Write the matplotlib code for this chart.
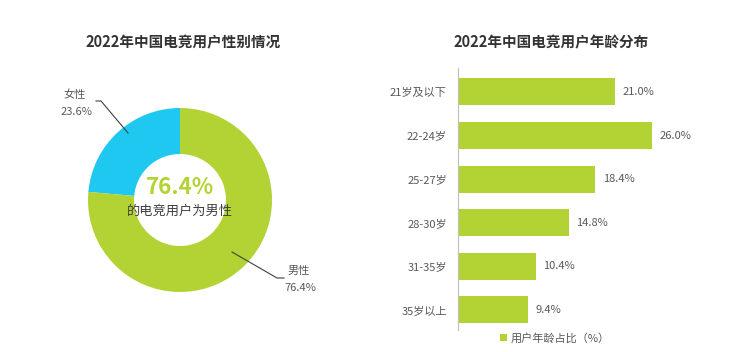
import matplotlib
matplotlib.use("Agg")
import matplotlib.pyplot as plt
from matplotlib.patches import Patch

plt.rcParams['font.family'] = ['Noto Sans CJK SC', 'DejaVu Sans']

gender_labels = ['女性', '男性']
gender_values = [23.6, 76.4]
gender_colors = ['#1ec8f0', '#b3d334']

age_labels = ['21岁及以下', '22-24岁', '25-27岁', '28-30岁', '31-35岁', '35岁以上']
age_values = [21.0, 26.0, 18.4, 14.8, 10.4, 9.4]
bar_color = '#b3d334'

W, H = 740, 352
fig = plt.figure(figsize=(W / 100, H / 100), dpi=100)

def px_axes(x0, y0, x1, y1):
    return fig.add_axes([x0 / W, 1 - y1 / H, (x1 - x0) / W, (y1 - y0) / H])

title_color = '#333333'
text_color = '#595959'

fig.text(183 / W, 1 - 42 / H, '2022年中国电竞用户性别情况', ha='center', va='center',
         fontsize=10.5, fontweight='bold', color=title_color)
fig.text(551 / W, 1 - 42 / H, '2022年中国电竞用户年龄分布', ha='center', va='center',
         fontsize=10.5, fontweight='bold', color=title_color)

# Donut
ax1 = px_axes(88, 108, 272, 292)
ax1.pie(gender_values, colors=gender_colors, startangle=90, counterclock=True,
        radius=1.0, wedgeprops=dict(width=0.5, edgecolor='none'))
ax1.set_xlim(-1, 1)
ax1.set_ylim(-1, 1)
ax1.set_aspect('equal')
ax1.axis('off')

fig.text(180 / W, 1 - 187 / H, f'{gender_values[1]:.1f}%', ha='center', va='center',
         fontsize=16, fontweight='bold', color=gender_colors[1])
fig.text(180 / W, 1 - 211 / H, '的电竞用户为男性', ha='center', va='center',
         fontsize=9.5, color='#404040')

# leader lines and labels
def fpx(x, y):
    return (x / W, 1 - y / H)

xs, ys = zip(*[fpx(96, 101), fpx(101, 101), fpx(128, 133)])
fig.add_artist(plt.Line2D(xs, ys, color='#404040', lw=0.8))
fig.text(75 / W, 1 - 95 / H, gender_labels[0], ha='center', va='center', fontsize=8, color=text_color)
fig.text(76 / W, 1 - 112 / H, f'{gender_values[0]:.1f}%', ha='center', va='center', fontsize=8, color=text_color)

xs, ys = zip(*[fpx(232, 252), fpx(277, 278), fpx(284, 278)])
fig.add_artist(plt.Line2D(xs, ys, color='#404040', lw=0.8))
fig.text(299 / W, 1 - 271 / H, gender_labels[1], ha='center', va='center', fontsize=8, color=text_color)
fig.text(300 / W, 1 - 288 / H, f'{gender_values[1]:.1f}%', ha='center', va='center', fontsize=8, color=text_color)

# Bars
ax2 = px_axes(458, 68, 682, 330)
ypos = list(range(len(age_labels)))
ax2.barh(ypos, age_values, height=0.62, color=bar_color)
ax2.set_xlim(0, 30)
ax2.set_ylim(5.46, -0.55)
ax2.set_yticks(ypos)
ax2.set_yticklabels(age_labels, fontsize=8, color=text_color)
ax2.tick_params(axis='y', length=0, pad=8)
ax2.set_xticks([])
for s in ['top', 'right', 'bottom']:
    ax2.spines[s].set_visible(False)
ax2.spines['left'].set_color('#bfbfbf')
ax2.spines['left'].set_linewidth(0.8)
for y, v in zip(ypos, age_values):
    ax2.text(v + 1.0, y, f'{v:.1f}%', va='center', ha='left', fontsize=8, color=text_color)

fig.legend(handles=[Patch(facecolor=bar_color, label='用户年龄占比（%）')],
           loc='center', bbox_to_anchor=(555 / W, 1 - 338 / H), frameon=False,
           fontsize=8, handlelength=0.6, handleheight=0.6, handletextpad=0.3,
           labelcolor=text_color)

fig.savefig('out.png', dpi=100, facecolor='white')
